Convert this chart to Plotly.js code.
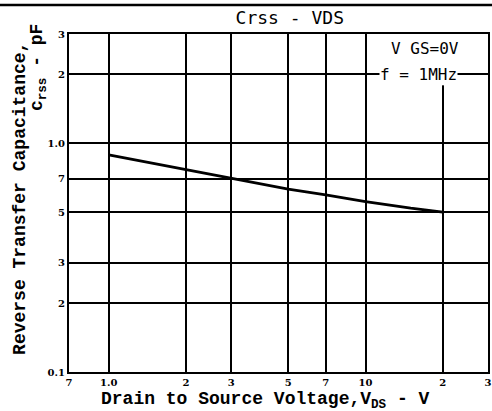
<!DOCTYPE html>
<html>
<head>
<meta charset="utf-8">
<script src="https://cdn.plot.ly/plotly-3.0.1.min.js"></script>
<style>html,body{margin:0;padding:0;background:#fff;}#chart{width:492px;height:411px;}</style>
</head>
<body>
<div id="chart"></div>
<script>
// Data
const vds = [1.0, 2, 3, 5, 7, 10, 15, 20];
const crss = [0.888, 0.765, 0.70, 0.63, 0.595, 0.556, 0.52, 0.50];

const xTickVals = [0.7, 1, 2, 3, 5, 7, 10, 20, 30];
const xTickText = ["7", "1.0", "2", "3", "5", "7", "10", "2", "3"];
const yTickVals = [0.1, 0.2, 0.3, 0.5, 0.7, 1, 2, 3];
const yTickText = ["0.1", "2", "3", "5", "7", "1.0", "2", "3"];

const tickFont = {family: "DejaVu Serif", size: 10, color: "#000", weight: "bold"};
const labelFont = {family: "Liberation Mono", size: 18, color: "#000", weight: "bold"};
const noteFont = {family: "DejaVu Sans Mono", size: 16, color: "#000"};

const trace = {
  x: vds, y: crss, type: "scatter", mode: "lines",
  line: {color: "#000", width: 2.8}, hoverinfo: "skip"
};

const layout = {
  width: 492, height: 411,
  margin: {l: 69, r: 4, t: 34, b: 39},
  paper_bgcolor: "#fff", plot_bgcolor: "#fff",
  showlegend: false,
  title: {text: "Crss - VDS", x: 0.589, xanchor: "center", y: 0.956, yanchor: "middle",
          font: {family: "DejaVu Sans Mono", size: 18, color: "#000"}},
  xaxis: {
    type: "log", range: [Math.log10(0.7), Math.log10(30)],
    tickmode: "array", tickvals: xTickVals, ticktext: xTickText,
    showgrid: true, gridcolor: "#000", gridwidth: 2,
    showline: true, linecolor: "#000", linewidth: 2, mirror: true,
    ticks: "", tickfont: tickFont, zeroline: false
  },
  yaxis: {
    type: "log", range: [-1, Math.log10(3)],
    tickmode: "array", tickvals: yTickVals, ticktext: yTickText,
    showgrid: true, gridcolor: "#000", gridwidth: 2,
    showline: true, linecolor: "#000", linewidth: 2, mirror: true,
    ticks: "", tickfont: tickFont, zeroline: false
  },
  shapes: [
    {type: "line", xref: "paper", yref: "paper", x0: -0.165, x1: 1.01, y0: 1.086, y1: 1.086,
     line: {color: "#000", width: 2.5}},
    {type: "rect", xref: "x", yref: "y", x0: 19, x1: 21, y0: 1.79, y1: 3,
     fillcolor: "#fff", line: {width: 0}, layer: "between"}
  ],
  annotations: [
    {text: "V GS=0V", xref: "x", yref: "y", x: Math.log10(17.1), y: Math.log10(2.6),
     xanchor: "center", yanchor: "middle",
     showarrow: false, font: noteFont, bgcolor: "#fff"},
    {text: "f = 1MHz", xref: "x", yref: "y", x: Math.log10(16.1), y: Math.log10(2.0),
     xanchor: "center", yanchor: "middle",
     showarrow: false, font: noteFont, bgcolor: "#fff", borderpad: 0},
    {text: "Drain to Source Voltage,V<sub>DS</sub> - V", xref: "paper", yref: "paper",
     x: 0.468, y: -0.045, xanchor: "center", yanchor: "top", showarrow: false,
     font: labelFont},
    {text: "Reverse Transfer Capacitance,", xref: "paper", yref: "paper",
     x: -0.117, y: 0.515, xanchor: "center", yanchor: "middle", textangle: -90, showarrow: false,
     font: labelFont},
    {text: "c<sub>rss</sub> - pF", xref: "paper", yref: "paper",
     x: -0.074, y: 0.902, xanchor: "center", yanchor: "middle", textangle: -90, showarrow: false,
     font: labelFont}
  ]
};

Plotly.newPlot("chart", [trace], layout, {displayModeBar: false, staticPlot: true});
</script>
</body>
</html>
